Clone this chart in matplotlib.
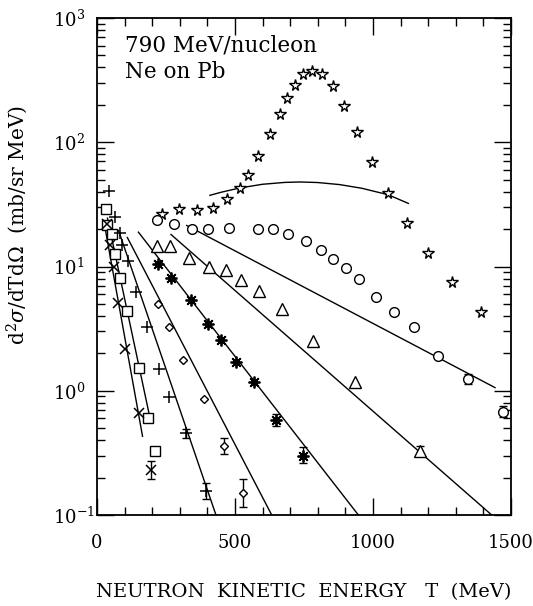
import matplotlib
matplotlib.use("Agg")
import matplotlib.pyplot as plt
from matplotlib.ticker import LogLocator, MultipleLocator, NullFormatter, FixedLocator

plt.rcParams['font.family'] = ['DejaVu Serif']
plt.rcParams['mathtext.fontset'] = 'dejavuserif'

# ---- data ----
star_T = [234, 298, 361, 421, 470, 518, 548, 584, 627, 663, 689, 717, 747, 780, 816,
          854, 896, 943, 995, 1055, 1122, 1200, 1287, 1393]
star_v = [26.3, 28.8, 28.3, 29.8, 35.2, 43.1, 54.2, 77.6, 116, 168, 229, 290, 353, 372, 353,
          284, 196, 122, 69.3, 38.8, 22.5, 12.9, 7.47, 4.31]

circ_T = [218, 280, 343, 401, 479, 584, 639, 693, 757, 810, 854, 901, 950, 1010, 1076,
          1150, 1236, 1343, 1472]
circ_v = [23.5, 21.8, 19.9, 20.1, 20.6, 20.1, 19.9, 18.4, 16.0, 13.7, 11.5, 9.64, 7.86, 5.70,
          4.31, 3.26, 1.92, 1.25, 0.68]

tri_T = [216, 264, 333, 406, 466, 522, 588, 669, 781, 936, 1170]
tri_v = [14.6, 14.6, 11.7, 9.95, 9.34, 7.85, 6.40, 4.56, 2.50, 1.17, 0.330]

ast_T = [220, 268, 341, 402, 449, 503, 570, 650, 747]
ast_v = [10.4, 8.11, 5.35, 3.46, 2.55, 1.70, 1.18, 0.584, 0.299]

dia_T = [220, 261, 313, 388, 460, 530]
dia_v = [5.03, 3.25, 1.78, 0.862, 0.362, 0.150]

plus_T = [43, 65, 82, 92, 113, 141, 182, 225, 261, 321, 395]
plus_v = [40.5, 25.1, 18.6, 14.8, 11.0, 6.29, 3.24, 1.50, 0.883, 0.456, 0.156]

sq_T = [34, 36, 54, 66, 84, 110, 151, 184, 211]
sq_v = [29.0, 21.4, 18.1, 12.7, 8.11, 4.36, 1.52, 0.602, 0.330]

x_T = [36, 47, 60, 77, 103, 151, 194]
x_v = [22.0, 15.0, 10.0, 5.08, 2.16, 0.659, 0.231]

# error bars (T, value, low, high)
eb_T = [1343, 1472, 1170, 650, 747, 460, 530, 321, 395, 194]
eb_v = [1.25, 0.68, 0.330, 0.584, 0.299, 0.362, 0.150, 0.456, 0.156, 0.231]
eb_lo = [1.14, 0.61, 0.30, 0.52, 0.26, 0.31, 0.115, 0.42, 0.134, 0.195]
eb_hi = [1.37, 0.76, 0.36, 0.65, 0.35, 0.42, 0.195, 0.49, 0.181, 0.273]

# model curves
fit_star_T = [409, 450, 518, 600, 680, 735, 800, 880, 960, 1055, 1128]
fit_star_v = [37.4, 39.6, 42.9, 45.9, 47.5, 47.9, 47.4, 45.6, 42.6, 37.8, 32.2]
fit_circ_T = [325, 1442]
fit_circ_v = [21.4, 1.06]
fit_tri_T = [268, 1430]
fit_tri_v = [18.1, 0.1]
fit_ast_T = [150, 947]
fit_ast_v = [18.9, 0.1]
fit_dia_T = [110, 633]
fit_dia_v = [17.1, 0.1]
fit_plus_T = [78, 431]
fit_plus_v = [19.5, 0.1]
fit_sq_T = [38, 192]
fit_sq_v = [24.5, 0.603]
fit_x_T = [30, 165]
fit_x_v = [20.0, 0.43]

x_ticks = [0, 500, 1000, 1500]

# ---- figure ----
fig = plt.figure(figsize=(5.33, 6.06), dpi=100)
ax = fig.add_axes([97/533, 1-515/606, 414/533, 497/606])
ax.set_yscale('log')
ax.set_xlim(0, 1500)
ax.set_ylim(0.1, 1000)

lw = 1.0
for T, v in [(fit_star_T, fit_star_v), (fit_circ_T, fit_circ_v), (fit_tri_T, fit_tri_v),
             (fit_ast_T, fit_ast_v), (fit_dia_T, fit_dia_v), (fit_plus_T, fit_plus_v),
             (fit_sq_T, fit_sq_v), (fit_x_T, fit_x_v)]:
    ax.plot(T, v, color='black', lw=lw, clip_on=True)

# error bars
ax.errorbar(eb_T, eb_v, yerr=[[v - l for v, l in zip(eb_v, eb_lo)],
                              [h - v for v, h in zip(eb_v, eb_hi)]],
            fmt='none', ecolor='black', elinewidth=1.0, capsize=3.2, capthick=1.0)

mk = dict(linestyle='none', color='black', markerfacecolor='white',
          markeredgecolor='black', markeredgewidth=1.0, clip_on=False)
ax.plot(star_T, star_v, marker='*', markersize=8.5, **mk)
ax.plot(circ_T, circ_v, marker='o', markersize=7, **mk)
ax.plot(tri_T, tri_v, marker='^', markersize=8, **mk)
ax.plot(dia_T, dia_v, marker='D', markersize=4.5, **mk)
ax.plot(sq_T, sq_v, marker='s', markersize=6.5, **mk)
ax.plot(plus_T, plus_v, marker='+', markersize=9, linestyle='none', color='black',
        markeredgewidth=1.1)
ax.plot(x_T, x_v, marker='x', markersize=7, linestyle='none', color='black',
        markeredgewidth=1.1)
ax.plot(ast_T, ast_v, marker=(8, 2, 0), markersize=8.5, linestyle='none', color='black',
        markeredgewidth=1.3)
ax.plot(ast_T, ast_v, marker='o', markersize=3.8, linestyle='none', color='black')

# ticks
ax.xaxis.set_major_locator(FixedLocator(x_ticks))
ax.xaxis.set_minor_locator(MultipleLocator(100))
ax.yaxis.set_major_locator(LogLocator(base=10, numticks=10))
ax.yaxis.set_minor_locator(LogLocator(base=10, subs=range(2, 10), numticks=20))
ax.yaxis.set_minor_formatter(NullFormatter())
ax.tick_params(which='both', direction='in', top=True, right=True, width=1.0,
               labelsize=13)
ax.tick_params(which='major', length=12, pad=14)
ax.tick_params(which='minor', length=6)
ax.tick_params(axis='y', which='major', pad=32)
for lab in ax.get_yticklabels():
    lab.set_horizontalalignment('left')
for s in ax.spines.values():
    s.set_linewidth(1.3)

ax.set_xlabel('NEUTRON  KINETIC  ENERGY   T  (MeV)', fontsize=14, labelpad=22)
ax.set_ylabel(r'd$^2\sigma$/dTd$\Omega$  (mb/sr MeV)', fontsize=14.5)
ax.yaxis.set_label_coords(-0.162, 0.583)

ax.text(0.068, 0.932, '790 MeV/nucleon', transform=ax.transAxes, fontsize=15.5,
        ha='left', va='baseline')
ax.text(0.068, 0.879, 'Ne on Pb', transform=ax.transAxes, fontsize=15.5,
        ha='left', va='baseline')

fig.savefig('out.png', dpi=100)
